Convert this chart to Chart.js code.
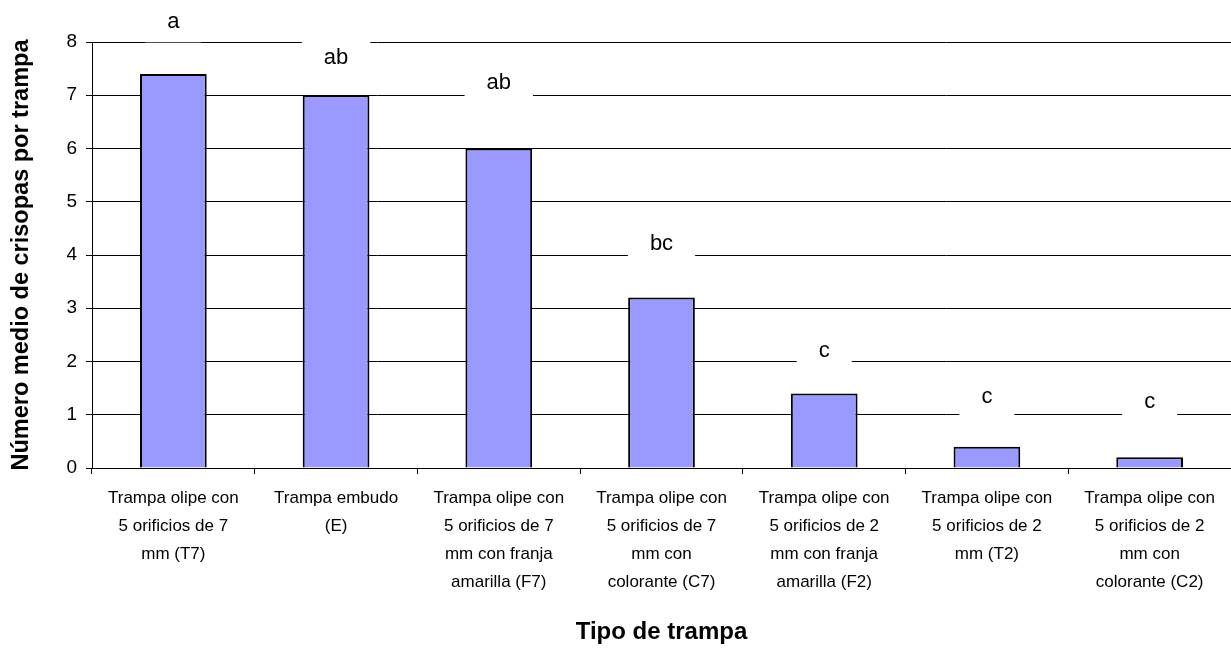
<!DOCTYPE html>
<html>
<head>
<meta charset="utf-8">
<script src="https://cdn.jsdelivr.net/npm/chart.js@4"></script>
<style>
  body { margin: 0; background: #fff; }
  canvas { display: block; }
</style>
</head>
<body>
<canvas id="myChart" width="1231" height="655"></canvas>
<script>
// categorías (tipo de trampa)
const categorias = [
    ['Trampa olipe con', '5 orificios de 7', 'mm (T7)'],
    ['Trampa embudo', '(E)'],
    ['Trampa olipe con', '5 orificios de 7', 'mm con franja', 'amarilla (F7)'],
    ['Trampa olipe con', '5 orificios de 7', 'mm con', 'colorante (C7)'],
    ['Trampa olipe con', '5 orificios de 2', 'mm con franja', 'amarilla (F2)'],
    ['Trampa olipe con', '5 orificios de 2', 'mm (T2)'],
    ['Trampa olipe con', '5 orificios de 2', 'mm con', 'colorante (C2)']
];
// número medio de crisopas por trampa
const medias = [7.4, 7.0, 6.0, 3.2, 1.4, 0.4, 0.2];
// letras de significación y su altura (en unidades del eje y)
const letras = ['a', 'ab', 'ab', 'bc', 'c', 'c', 'c'];
const alturaLetras = [8.37, 7.71, 7.24, 4.2, 2.19, 1.33, 1.24];
const ticksY = [0, 1, 2, 3, 4, 5, 6, 7, 8];

const fuente = 'Liberation Sans, Arial, sans-serif';

// dibuja las letras con su caja blanca que tapa las líneas de la rejilla
const letrasPlugin = {
    id: 'letras',
    afterDatasetsDraw(chart) {
        const c = chart.ctx;
        const meta = chart.getDatasetMeta(0);
        const y = chart.scales.y;
        c.save();
        c.font = '22px ' + fuente;
        c.textAlign = 'center';
        c.textBaseline = 'middle';
        meta.data.forEach((bar, i) => {
            const py = y.getPixelForValue(alturaLetras[i]);
            const w = c.measureText(letras[i]).width + 44;
            c.fillStyle = '#fff';
            c.fillRect(bar.x - w / 2, py - 20, w, 40);
            c.fillStyle = '#000';
            c.fillText(letras[i], bar.x, py);
        });
        c.restore();
    }
};

let ctx = document.getElementById('myChart');

let config = {
    type: 'bar',
    data: {
        labels: categorias,
        datasets: [{
            data: medias,
            backgroundColor: '#9999ff',
            borderColor: '#000',
            borderWidth: 2,
            categoryPercentage: 1,
            barPercentage: 0.41
        }]
    },
    options: {
        responsive: false,
        animation: false,
        layout: { padding: { top: 42, right: 0, left: 0, bottom: 0 } },
        plugins: {
            legend: { display: false },
            tooltip: { enabled: false }
        },
        scales: {
            x: {
                grid: { drawOnChartArea: false, color: '#000', tickLength: 6, offset: true },
                border: { color: '#000', width: 1 },
                ticks: {
                    color: '#000', font: { family: fuente, size: 17, lineHeight: 1.65 },
                    maxRotation: 0, autoSkip: false, padding: 10
                },
                title: {
                    display: true, text: 'Tipo de trampa', color: '#000',
                    font: { family: fuente, size: 24, weight: 'bold' },
                    padding: { top: 0, bottom: 8 }
                },
                afterFit(s) { s.height = 187; }
            },
            y: {
                min: 0, max: 8,
                afterBuildTicks(s) { s.ticks = ticksY.map(v => ({ value: v })); },
                grid: { color: '#000', tickLength: 6 },
                border: { color: '#000', width: 1 },
                ticks: { color: '#000', font: { family: fuente, size: 19 }, padding: 9 },
                title: {
                    display: true, text: 'Número medio de crisopas por trampa', color: '#000',
                    font: { family: fuente, size: 23.5, weight: 'bold' },
                    padding: { top: 7, bottom: 0 }
                },
                afterFit(s) { s.width = 92; }
            }
        }
    },
    plugins: [letrasPlugin]
};

let myChart = new Chart(ctx, config);
</script>
</body>
</html>
